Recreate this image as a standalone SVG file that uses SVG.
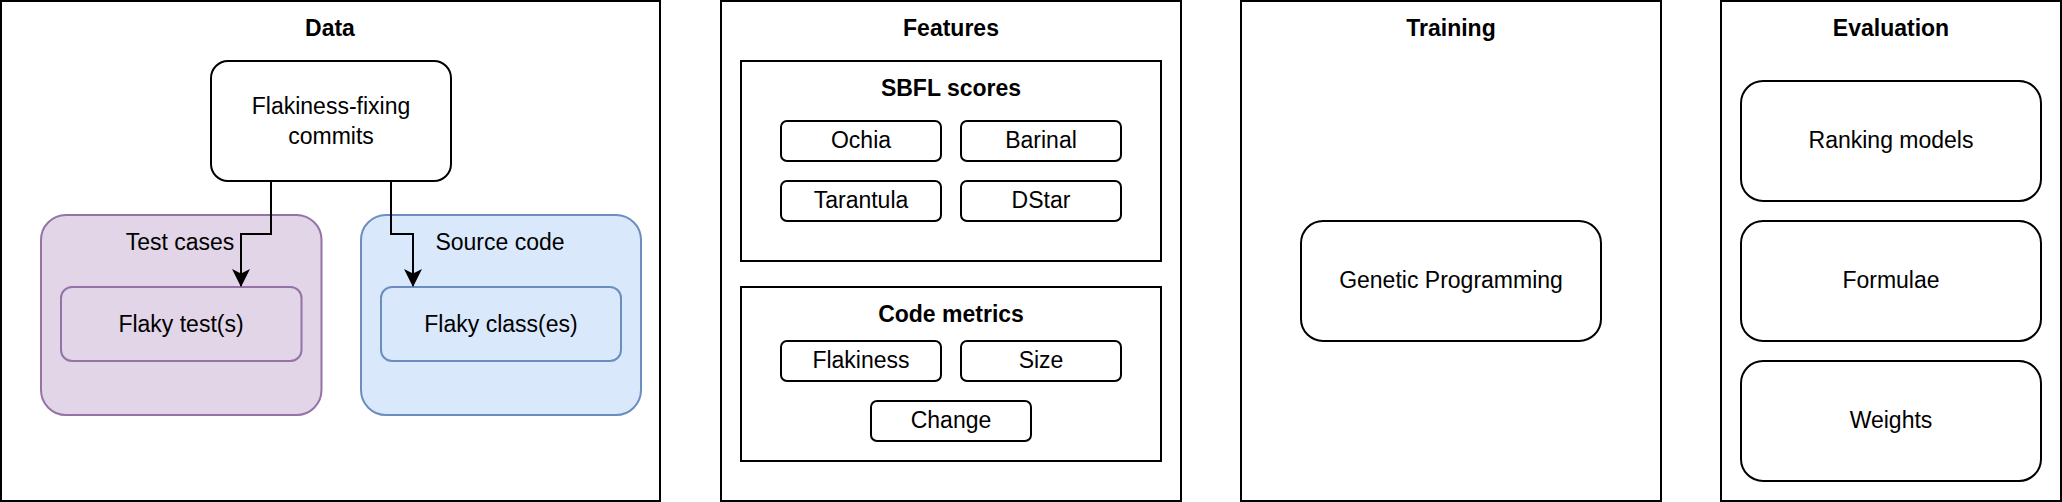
<svg xmlns="http://www.w3.org/2000/svg" width="2062" height="502" viewBox="0 0 2062 502">
<style>
  .sec { fill: #ffffff; stroke: #000000; stroke-width: 2; }
  .box { fill: #ffffff; stroke: #000000; stroke-width: 2; }
  .purple { fill: #e1d5e7; stroke: #9673a6; stroke-width: 2; }
  .blue { fill: #dae8fc; stroke: #6c8ebf; stroke-width: 2; }
  text { font-family: "Liberation Sans", Arial, Helvetica, sans-serif; font-size: 23px; fill: #000000; text-anchor: middle; }
  .title { font-weight: bold; }
  .conn { fill: none; stroke: #000000; stroke-width: 2; }
</style>
<defs>
  <marker id="arrow" markerUnits="userSpaceOnUse" viewBox="0 0 18 18" markerWidth="18" markerHeight="18" refX="17" refY="9" orient="auto">
    <path d="M0,0 L18,9 L0,18 L4.5,9 Z" fill="#000000"/>
  </marker>
</defs>
<rect width="2062" height="502" fill="#ffffff"/>

<!-- Data section -->
<g id="data">
  <rect class="sec" x="1" y="1" width="659" height="500"/>
  <text class="title" x="330" y="36">Data</text>
</g>
<g id="test-cases">
  <rect class="purple" x="41" y="215" width="280.5" height="200" rx="25" ry="25"/>
  <text x="180" y="250">Test cases</text>
</g>
<g id="source-code">
  <rect class="blue" x="361" y="215" width="280" height="200" rx="25" ry="25"/>
  <text x="500" y="250">Source code</text>
</g>
<g id="flaky-tests">
  <rect class="purple" x="61" y="287" width="240.5" height="74" rx="11" ry="11"/>
  <text x="181" y="332">Flaky test(s)</text>
</g>
<g id="flaky-classes">
  <rect class="blue" x="381" y="287" width="240" height="74" rx="11" ry="11"/>
  <text x="501" y="332">Flaky class(es)</text>
</g>
<g id="flakiness-fixing-commits">
  <rect class="box" x="211" y="61" width="240" height="120" rx="17" ry="17"/>
  <text x="331" y="114">Flakiness-fixing</text>
  <text x="331" y="144">commits</text>
</g>

<!-- Features section -->
<g id="features">
  <rect class="sec" x="721" y="1" width="460" height="500"/>
  <text class="title" x="951" y="36">Features</text>
</g>
<g id="sbfl-scores">
  <rect class="sec" x="741" y="61" width="420" height="200"/>
  <text class="title" x="951" y="96">SBFL scores</text>
</g>
<g id="ochia">
  <rect class="box" x="781" y="121" width="160" height="40" rx="6" ry="6"/>
  <text x="861" y="148">Ochia</text>
</g>
<g id="barinal">
  <rect class="box" x="961" y="121" width="160" height="40" rx="6" ry="6"/>
  <text x="1041" y="148">Barinal</text>
</g>
<g id="tarantula">
  <rect class="box" x="781" y="181" width="160" height="40" rx="6" ry="6"/>
  <text x="861" y="208">Tarantula</text>
</g>
<g id="dstar">
  <rect class="box" x="961" y="181" width="160" height="40" rx="6" ry="6"/>
  <text x="1041" y="208">DStar</text>
</g>
<g id="code-metrics">
  <rect class="sec" x="741" y="287" width="420" height="174"/>
  <text class="title" x="951" y="322">Code metrics</text>
</g>
<g id="flakiness">
  <rect class="box" x="781" y="341" width="160" height="40" rx="6" ry="6"/>
  <text x="861" y="368">Flakiness</text>
</g>
<g id="size">
  <rect class="box" x="961" y="341" width="160" height="40" rx="6" ry="6"/>
  <text x="1041" y="368">Size</text>
</g>
<g id="change">
  <rect class="box" x="871" y="401" width="160" height="40" rx="6" ry="6"/>
  <text x="951" y="428">Change</text>
</g>

<!-- Training section -->
<g id="training">
  <rect class="sec" x="1241" y="1" width="420" height="500"/>
  <text class="title" x="1451" y="36">Training</text>
</g>
<g id="genetic-programming">
  <rect class="box" x="1301" y="221" width="300" height="120" rx="22" ry="22"/>
  <text x="1451" y="288">Genetic Programming</text>
</g>

<!-- Evaluation section -->
<g id="evaluation">
  <rect class="sec" x="1721" y="1" width="340" height="500"/>
  <text class="title" x="1891" y="36">Evaluation</text>
</g>
<g id="ranking-models">
  <rect class="box" x="1741" y="81" width="300" height="120" rx="22" ry="22"/>
  <text x="1891" y="148">Ranking models</text>
</g>
<g id="formulae">
  <rect class="box" x="1741" y="221" width="300" height="120" rx="22" ry="22"/>
  <text x="1891" y="288">Formulae</text>
</g>
<g id="weights">
  <rect class="box" x="1741" y="361" width="300" height="120" rx="22" ry="22"/>
  <text x="1891" y="428">Weights</text>
</g>

<!-- Connectors -->
<g id="connectors">
  <path class="conn" d="M271,181 V234 H241 V286" marker-end="url(#arrow)"/>
  <path class="conn" d="M391,181 V234 H413 V286" marker-end="url(#arrow)"/>
</g>
</svg>
